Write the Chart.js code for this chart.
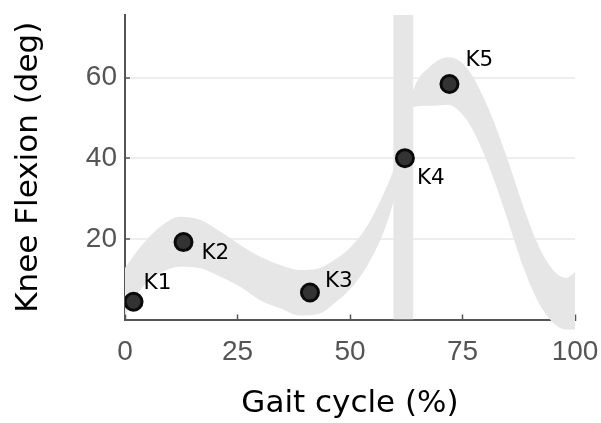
<!DOCTYPE html>
<html>
<head>
<meta charset="utf-8">
<script src="https://cdn.jsdelivr.net/npm/chart.js@4.4.1/dist/chart.umd.min.js"></script>
<style>
  body { margin: 0; background: #fff; }
  #wrap { width: 601px; height: 423px; }
</style>
</head>
<body>
<div id="wrap"><canvas id="gaitChart"></canvas></div>
<script>
// gait cycle samples of the grey band (mean +/- sd)
var bandX     = [0, 3.4, 7.8, 12.3, 16.8, 21.2, 25.6, 30, 34.5, 38.9, 43.3, 46.3, 50, 53.7, 57.4, 59.6, 61.9, 64.1, 67.8, 71.8, 75.9, 80.3, 84.8, 88.5, 92, 95.8, 98.1, 100];
var bandUpper = [12.8, 18, 23, 25.5, 24.7, 21.8, 18.5, 15.6, 13.5, 12.3, 12.8, 14.6, 17.8, 23, 31, 37, 47, 57, 62.7, 65, 62.5, 53.5, 40.4, 28, 18, 11.5, 10.3, 11.7];
var bandLower = [1, 7.3, 11.5, 13.1, 12.7, 10.6, 8.1, 4.8, 2.8, 1, 1.5, 3.8, 7.5, 13.1, 21.5, 29, 41, 52.7, 53, 53.2, 49.5, 39.6, 25.5, 13, 4, -1.5, -2.5, -2.5];

// toe-off window (vertical bar)
var toeOffX = [59.6, 64.1];

// key points K1..K5
var keyNames = ['K1', 'K2', 'K3', 'K4', 'K5'];
var keyX = [1.9, 13, 41.1, 62.2, 72.1];
var keyY = [4.4, 19.2, 6.7, 40, 58.4];

var xTicks = [0, 25, 50, 75, 100];
var yTicks = [20, 40, 60];
var yMax = 75.5;

// where the K labels sit next to their marker (px)
var labelDx = [10, 18, 15, 12, 16];
var labelDy = [-18, 11, -11, 20, -24];

var bandColor = '#e6e6e6';

function pts(xs, ys) {
  return xs.map(function (x, i) { return { x: x, y: ys[i] }; });
}

// let the band run a little below the axis like in the original
var bandOverflow = {
  id: 'bandOverflow',
  beforeDatasetsDraw: function (chart) {
    chart._savedBottom = chart.chartArea.bottom;
    chart.chartArea.bottom += 14;
  },
  afterDatasetsDraw: function (chart) {
    chart.chartArea.bottom = chart._savedBottom;
  }
};

var keyLabels = {
  id: 'keyLabels',
  afterDatasetsDraw: function (chart) {
    var meta = chart.getDatasetMeta(0);
    var ctx = chart.ctx;
    ctx.save();
    ctx.font = '21.5px "DejaVu Sans"';
    ctx.fillStyle = '#000';
    ctx.textAlign = 'left';
    ctx.textBaseline = 'middle';
    meta.data.forEach(function (p, i) {
      ctx.fillText(keyNames[i], p.x + labelDx[i], p.y + labelDy[i]);
    });
    ctx.restore();
  }
};

var ctx = document.getElementById('gaitChart');
new Chart(ctx, {
  type: 'scatter',
  data: {
    datasets: [
      {
        label: 'Key points',
        data: pts(keyX, keyY),
        order: 0,
        pointRadius: 8.5,
        pointBackgroundColor: '#333333',
        pointBorderColor: '#0a0a0a',
        pointBorderWidth: 3,
        showLine: false
      },
      {
        label: 'Toe off',
        data: pts(toeOffX, [yMax, yMax]),
        order: 1,
        showLine: true,
        borderWidth: 0,
        pointRadius: 0,
        backgroundColor: bandColor,
        fill: 'origin'
      },
      {
        label: 'Upper',
        data: pts(bandX, bandUpper),
        order: 2,
        showLine: true,
        borderWidth: 0,
        pointRadius: 0,
        backgroundColor: bandColor,
        cubicInterpolationMode: 'monotone',
        capBezierPoints: false,
        clip: false,
        fill: '+1'
      },
      {
        label: 'Lower',
        data: pts(bandX, bandLower),
        order: 3,
        showLine: true,
        borderWidth: 0,
        pointRadius: 0,
        backgroundColor: bandColor,
        cubicInterpolationMode: 'monotone',
        capBezierPoints: false,
        clip: false,
        fill: false
      }
    ]
  },
  options: {
    responsive: true,
    maintainAspectRatio: false,
    animation: false,
    layout: { padding: { left: 0, right: 26, top: 15, bottom: 0 } },
    plugins: {
      legend: { display: false },
      tooltip: { enabled: false }
    },
    scales: {
      x: {
        type: 'linear',
        min: 0,
        max: 100,
        afterBuildTicks: function (s) { s.ticks = xTicks.map(function (v) { return { value: v }; }); },
        afterFit: function (s) { s.height = 103.5; s.paddingLeft = 0; s.paddingRight = 0; },
        grid: {
          drawOnChartArea: false,
          drawTicks: true,
          tickLength: -5,
          tickColor: '#555',
          tickWidth: 1.5
        },
        border: { color: '#555', width: 2 },
        ticks: {
          padding: 21,
          color: '#555',
          font: { family: '"Liberation Sans", Arial', size: 28 }
        },
        title: {
          display: true,
          text: 'Gait cycle (%)',
          color: '#000',
          padding: { top: 0, bottom: 0 },
          font: { family: '"DejaVu Sans"', size: 31 }
        }
      },
      y: {
        type: 'linear',
        min: 0,
        max: yMax,
        afterBuildTicks: function (s) { s.ticks = yTicks.map(function (v) { return { value: v }; }); },
        afterFit: function (s) { s.width = 125; s.paddingTop = 0; s.paddingBottom = 0; },
        grid: {
          color: '#eeeeee',
          lineWidth: 2,
          drawTicks: true,
          tickLength: -5,
          tickColor: '#555',
          tickWidth: 1.5
        },
        border: { color: '#555', width: 2 },
        ticks: {
          padding: 13,
          color: '#555',
          font: { family: '"Liberation Sans", Arial', size: 28 }
        },
        title: {
          display: true,
          text: 'Knee Flexion (deg)',
          color: '#000',
          padding: { top: 10, bottom: 0 },
          font: { family: '"DejaVu Sans"', size: 31 }
        }
      }
    }
  },
  plugins: [bandOverflow, keyLabels]
});
</script>
</body>
</html>
